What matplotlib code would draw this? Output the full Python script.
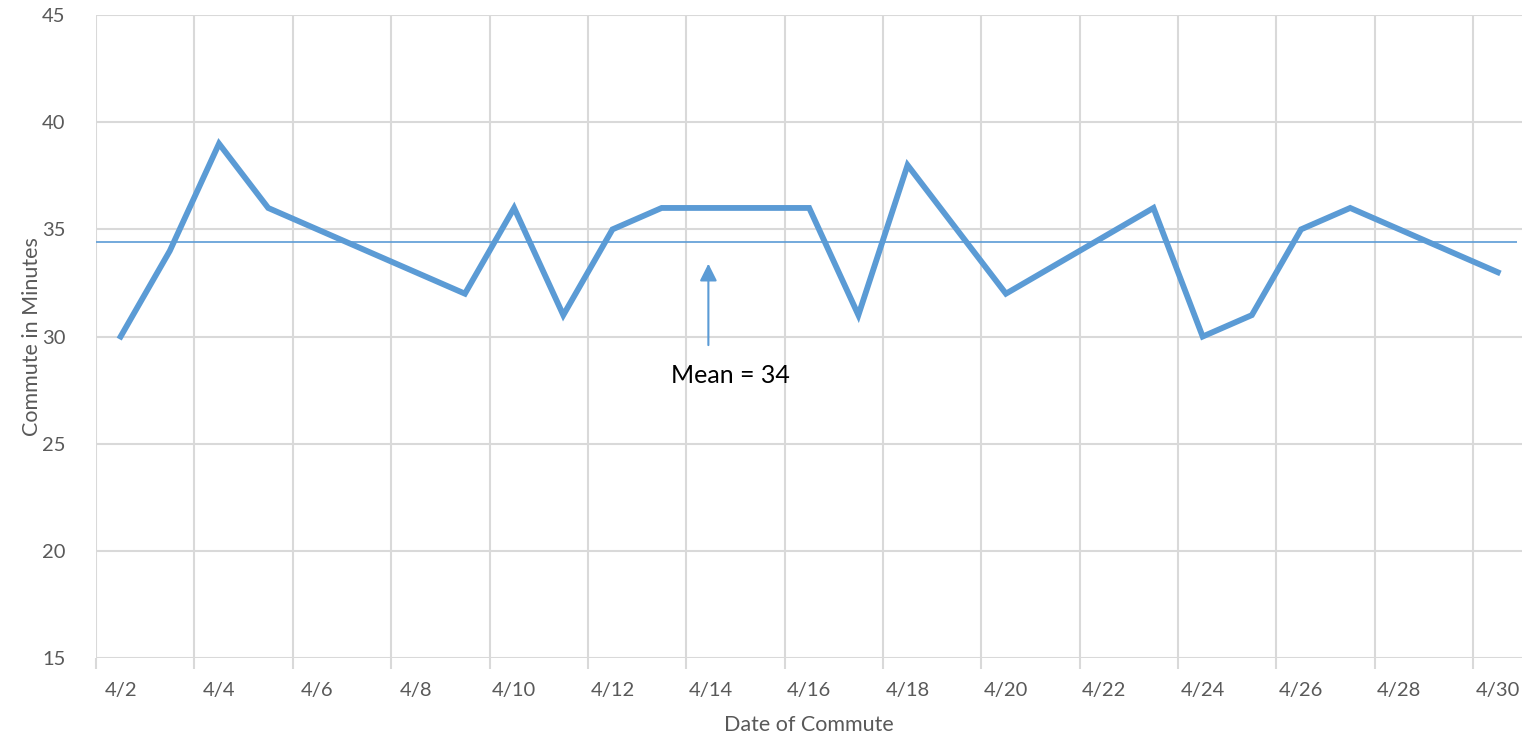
import numpy as np
import matplotlib.pyplot as plt

# commute times in April (day of month -> minutes)
days = [2, 3, 4, 5, 9, 10, 11, 12, 13, 16, 17, 18, 20, 23, 24, 25, 26, 27, 30]
minutes = [30, 34, 39, 36, 32, 36, 31, 35, 36, 36, 31, 38, 32, 36, 30, 31, 35, 36, 33]
mean_line = 34.4
tick_days = list(range(2, 31, 2))
tick_labels = [f"4/{d}" for d in tick_days]

blue = "#5B9BD5"
grid = "#D9D9D9"
text_col = "#595959"
plt.rcParams['font.family'] = ['Lato', 'DejaVu Sans']

fig = plt.figure(figsize=(15.32, 7.39), dpi=100)
ax = fig.add_axes([0.0627, 0.1096, 0.931, 0.870])

ax.set_xlim(1.5, 30.5)
ax.set_ylim(15, 45)

# vertical gridlines on the day boundaries, every two days
for x in np.arange(1.5, 30.5, 2):
    ax.axvline(x, color=grid, lw=1.5, zorder=0)
for y in range(15, 46, 5):
    ax.axhline(y, color=grid, lw=1.5, zorder=0)

ax.hlines(mean_line, 1.5, 30.4, color=blue, lw=1.2, zorder=2)
ax.plot(days, minutes, color=blue, lw=4.2, solid_joinstyle='miter', zorder=3)

ax.annotate("", xy=(13.95, 33.4), xytext=(13.95, 29.6),
            arrowprops=dict(arrowstyle="-|>", color=blue, lw=1.5,
                            mutation_scale=26, shrinkA=0, shrinkB=0))
ax.text(14.4, 28.2, "Mean = 34", ha='center', va='center', fontsize=18, color='black')

for s in ax.spines.values():
    s.set_visible(False)

ax.set_xticks(tick_days)
ax.set_xticklabels(tick_labels)
ax.set_xticks(np.arange(1.5, 30.5, 2), minor=True)
ax.tick_params(axis='x', which='major', length=0, pad=17, labelsize=14.5, labelcolor=text_col)
ax.tick_params(axis='x', which='minor', length=8, width=1.5, color=grid)
ax.set_yticks(range(15, 46, 5))
ax.tick_params(axis='y', length=0, pad=22, labelsize=14.5, labelcolor=text_col)

ax.set_xlabel("Date of Commute", fontsize=15.5, color=text_col, labelpad=12)
ax.set_ylabel("Commute in Minutes", fontsize=15.5, color=text_col, labelpad=0)

fig.savefig("out.png", dpi=100)
